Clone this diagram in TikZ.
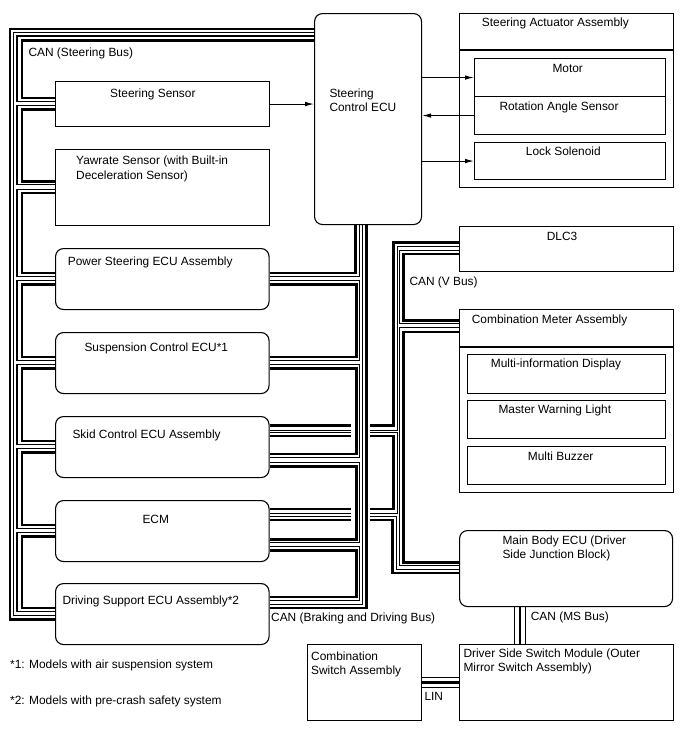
\documentclass[tikz,border=0pt]{standalone}
\usepackage{fontspec}
\setmainfont{Liberation Sans}
\usetikzlibrary{arrows.meta,calc}

\begin{document}
\begin{tikzpicture}[x=1pt, y=-1pt,
	every node/.style={font=\fontsize{11.9}{14.3}\selectfont},
	box/.style={draw, line width=1.1pt, inner sep=0pt, anchor=north west},
	rbox/.style={box, rounded corners=8pt},
	lbl/.style={inner sep=0pt, anchor=north west, align=left},
	canthk/.style={line width=2.8pt},
	canthn/.style={line width=1.1pt},
	sig/.style={line width=1pt, -{Latex[length=9pt, width=4.5pt]}}]
	\useasboundingbox (0,0) rectangle (688,755);

	% boxes
	\node[rbox, minimum width=107pt, minimum height=211pt] (ecu) at (314,13) {};
	\node[box, minimum width=214pt, minimum height=174pt] (act) at (459,13) {};
	\draw[line width=1.1pt] ($(act.north west)+(0,37)$) -- ($(act.north east)+(0,37)$);
	\node[box, minimum width=191pt, minimum height=38pt] (motor) at (474,58) {};
	\node[box, minimum width=191pt, minimum height=38pt] (rot) at (474,96) {};
	\node[box, minimum width=191pt, minimum height=37pt] (lock) at (474,142) {};
	\node[box, minimum width=214pt, minimum height=45pt] (ssen) at (55,81) {};
	\node[box, minimum width=214pt, minimum height=76pt] (yaw) at (55,149) {};
	\node[rbox, minimum width=213.5pt, minimum height=61pt] (pse) at (55,248) {};
	\node[rbox, minimum width=213.5pt, minimum height=61pt] (susp) at (55,332) {};
	\node[rbox, minimum width=213.5pt, minimum height=61pt] (skid) at (55,416) {};
	\node[rbox, minimum width=213.5pt, minimum height=61pt] (ecm) at (55,500) {};
	\node[rbox, minimum width=213.5pt, minimum height=61pt] (dsup) at (55,583) {};
	\node[box, minimum width=214pt, minimum height=45pt] (dlc) at (459,226) {};
	\node[box, minimum width=214pt, minimum height=183pt] (cmeter) at (459,309) {};
	\draw[line width=1.1pt] ($(cmeter.north west)+(0,38)$) -- ($(cmeter.north east)+(0,38)$);
	\node[box, minimum width=198pt, minimum height=38.5pt] (mid) at (467,354) {};
	\node[box, minimum width=198pt, minimum height=38pt] (mwl) at (467,400) {};
	\node[box, minimum width=198pt, minimum height=38pt] (buz) at (467,446) {};
	\node[rbox, minimum width=213pt, minimum height=76pt] (mbecu) at (459,530) {};
	\node[box, minimum width=114pt, minimum height=76pt] (csw) at (307,644) {};
	\node[box, minimum width=214pt, minimum height=76pt] (dssm) at (459,644) {};

	% CAN (V Bus)
	\draw[canthk] ($(dlc.west)+(0,-6.5)$) -| ($(skid.east)+(124,-21.3)$) -- ($(skid.east)+(0,-21.3)$);
	\draw[canthn] ($(dlc.west)+(0,-2.5)$) -| ($(skid.east)+(128,-17)$) -- ($(skid.east)+(0,-17)$);
	\draw[canthn] ($(dlc.west)+(0,1)$) -| ($(cmeter.north west)+(-59.5,14.8)$) -- ($(cmeter.north west)+(0,14.8)$);
	\draw[canthk] ($(dlc.west)+(0,5)$) -| ($(cmeter.north west)+(-55.5,11.5)$) -- ($(cmeter.north west)+(0,11.5)$);
	\draw[canthn] ($(cmeter.north west)+(0,18.3)$) -| ($(mbecu.west)+(-59.5,-3)$) -- ($(mbecu.west)+(0,-3)$);
	\draw[canthk] ($(cmeter.north west)+(0,23)$) -| ($(mbecu.west)+(-55.5,-6)$) -- ($(mbecu.west)+(0,-6)$);
	\draw[canthn] ($(skid.east)+(0,-14.5)$) -| ($(ecm.east)+(128,-18)$) -- ($(ecm.east)+(0,-18)$);
	\draw[canthk] ($(skid.east)+(0,-11)$) -| ($(ecm.east)+(124,-22)$) -- ($(ecm.east)+(0,-22)$);
	\draw[canthn] ($(ecm.east)+(0,-15)$) -| ($(mbecu.west)+(-62.5,0.5)$) -- ($(mbecu.west)+(0,0.5)$);
	\draw[canthk] ($(ecm.east)+(0,-11)$) -| ($(mbecu.west)+(-66.5,4.5)$) -- ($(mbecu.west)+(0,4.5)$);
	\foreach \n in {skid,ecm}
		\fill[white] ($(\n.east)+(81,-25)$) rectangle ($(\n.east)+(100.5,-8)$);

	% CAN (Braking and Driving Bus)
	\draw[canthk] ($(ecu.south)+(-12.5,0)$) |- ($(pse.east)+(0,-6)$);
	\draw[canthn] ($(ecu.south)+(-9,0)$) |- ($(pse.east)+(0,-3)$);
	\draw[canthn] ($(ecu.south)+(-5.5,0)$) |- ($(dsup.east)+(0,-9.7)$);
	\draw[canthk] ($(ecu.south)+(-1.5,0)$) |- ($(dsup.east)+(0,-6)$);
	\foreach \a/\sa/\b/\tb in {pse/0/susp/0, susp/0/skid/13, skid/14/ecm/14.7, ecm/14/dsup/-11} {
		\draw[canthn] ($(\a.east)+(0,1.5+\sa)$) -| ($(\b.east)+(90,-3+\tb)$) -- ($(\b.east)+(0,-3+\tb)$);
		\draw[canthk] ($(\a.east)+(0,5.5+\sa)$) -| ($(\b.east)+(86.5,-6+\tb)$) -- ($(\b.east)+(0,-6+\tb)$);
	}

	% CAN (Steering Bus)
	\draw[canthk] ($(ecu.north west)+(0,16)$) -| ($(dsup.west)+(-45,5.5)$) -- ($(dsup.west)+(0,5.5)$);
	\draw[canthn] ($(ecu.north west)+(0,19.5)$) -| ($(dsup.west)+(-41.5,1.5)$) -- ($(dsup.west)+(0,1.5)$);
	\draw[canthn] ($(ecu.north west)+(0,23)$) -| ($(ssen.west)+(-38,-3)$) -- ($(ssen.west)+(0,-3)$);
	\draw[canthk] ($(ecu.north west)+(0,27.5)$) -| ($(ssen.west)+(-33,-6)$) -- ($(ssen.west)+(0,-6)$);
	\foreach \a/\b in {ssen/yaw, yaw/pse, pse/susp, susp/skid, skid/ecm, ecm/dsup} {
		\draw[canthn] ($(\a.west)+(0,1.5)$) -| ($(\b.west)+(-38,-3)$) -- ($(\b.west)+(0,-3)$);
		\draw[canthk] ($(\a.west)+(0,5.5)$) -| ($(\b.west)+(-33,-6)$) -- ($(\b.west)+(0,-6)$);
	}

	% CAN (MS Bus) and LIN
	\foreach \dx/\st in {-51.5/canthn, -46/canthk, -40.5/canthn}
		\draw[\st] ($(mbecu.south)+(\dx,0)$) coordinate (ms) -- (ms |- dssm.north);
	\foreach \dy/\st in {-5/canthn, 0/canthk, 5/canthn}
		\draw[\st] ($(csw.east)+(0,\dy)$) coordinate (ln) -- (ln -| dssm.west);

	% signal lines
	\draw[sig] (ssen.east) -- (ssen.east -| ecu.west);
	\draw[sig] (motor.west -| ecu.east) -- (motor.west);
	\draw[sig] (rot.west) -- (rot.west -| ecu.east);
	\draw[sig] (lock.west -| ecu.east) -- (lock.west);

	% labels
	\node[lbl] (ecu-t) at (329.3,88.7) {Steering\\Control ECU};
	\node[lbl] (act-t) at (481.7,17.7) {Steering Actuator Assembly};
	\node[lbl] (motor-t) at (552.3,63.7) {Motor};
	\node[lbl] (rot-t) at (499.3,101.4) {Rotation Angle Sensor};
	\node[lbl] (lock-t) at (525.7,146.4) {Lock Solenoid};
	\node[lbl] (ssen-t) at (110,88.7) {Steering Sensor};
	\node[lbl] (yaw-t) at (76,156.1) {Yawrate Sensor (with Built-in\\Deceleration Sensor)};
	\node[lbl] (pse-t) at (67.7,256.4) {Power Steering ECU Assembly};
	\node[lbl] (susp-t) at (84.3,342.7) {Suspension Control ECU*1};
	\node[lbl] (skid-t) at (72.3,429.7) {Skid Control ECU Assembly};
	\node[lbl] (ecm-t) at (142.3,515.4) {ECM};
	\node[lbl] (dsup-t) at (62.3,596.1) {Driving Support ECU Assembly*2};
	\node[lbl] (dlc-t) at (546.7,232.1) {DLC3};
	\node[lbl] (cmeter-t) at (471.7,314.4) {Combination Meter Assembly};
	\node[lbl] (mid-t) at (490.7,358.7) {Multi-information Display};
	\node[lbl] (mwl-t) at (498.3,404.4) {Master Warning Light};
	\node[lbl] (buz-t) at (527.7,451.4) {Multi Buzzer};
	\node[lbl] (mbecu-t) at (502.3,535.4) {Main Body ECU (Driver\\Side Junction Block)};
	\node[lbl] (csw-t) at (311,651.4) {Combination\\Switch Assembly};
	\node[lbl] (dssm-t) at (463.3,648.7) {Driver Side Switch Module (Outer\\Mirror Switch Assembly)};
	\node[lbl] (cans-t) at (28.3,47.7) {CAN (Steering Bus)};
	\node[lbl] (canb-t) at (271,613.1) {CAN (Braking and Driving Bus)};
	\node[lbl] (canv-t) at (409.3,277.1) {CAN (V Bus)};
	\node[lbl] (canms-t) at (530.7,611.4) {CAN (MS Bus)};
	\node[lbl] (lin-t) at (424.3,692.1) {LIN};
	\node[lbl] (fn1) at (10,659.4) {*1: Models with air suspension system};
	\node[lbl] (fn2) at (10,696.1) {*2: Models with pre-crash safety system};
\end{tikzpicture}
\end{document}
